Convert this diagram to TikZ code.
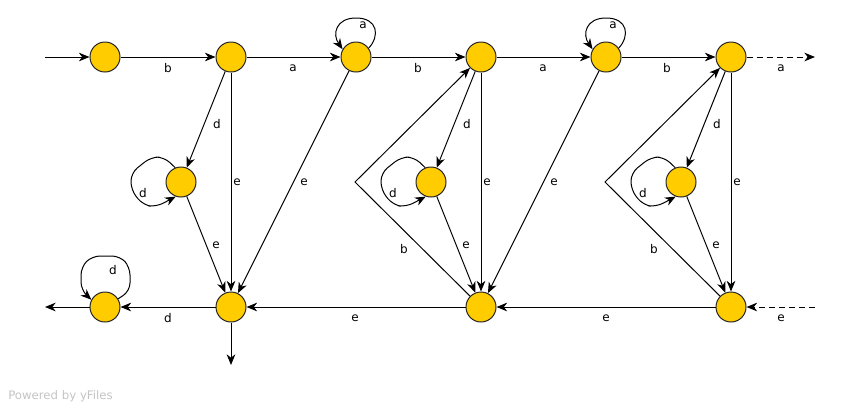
\documentclass[tikz,border=0pt]{standalone}
\usepackage{fontspec}
\setmainfont{DejaVu Sans}
\usetikzlibrary{arrows.meta}
\definecolor{yfy}{HTML}{FFCC00}
\definecolor{wm}{HTML}{C4C4C4}
\begin{document}
\begin{tikzpicture}[x=0.75pt,y=-0.75pt,
 st/.style={circle,draw=black!85,fill=yfy,minimum size=22.5pt,inner sep=0pt,line width=0.75pt},
 ed/.style={line width=0.75pt,-{Stealth[length=8pt,width=6.5pt,inset=2.5pt]}},
 loopl/.style={ed,rounded corners=6pt},
 dsh/.style={ed,dash pattern=on 4.5pt off 3pt},
 lbl/.style={font=\fontsize{9}{10}\selectfont,inner sep=0pt}
]
\useasboundingbox (0,0) rectangle (860,412);

% nodes
\node[st] (n1) at (105,57) {};
\node[st] (n2) at (231,57) {};
\node[st] (n3) at (356,57) {};
\node[st] (n4) at (481,57) {};
\node[st] (n5) at (606,57) {};
\node[st] (n6) at (731,57) {};
\node[st] (m1) at (181,182) {};
\node[st] (m2) at (431,182) {};
\node[st] (m3) at (681,182) {};
\node[st] (b1) at (105,307) {};
\node[st] (b2) at (231,307) {};
\node[st] (b3) at (481,307) {};
\node[st] (b4) at (731,307) {};

\coordinate (in) at (45,57);
\coordinate (outT) at (815,57);
\coordinate (inB) at (815,307);
\coordinate (outL) at (45,307);
\coordinate (outD) at (231,365);
\coordinate (p1) at (355,182);
\coordinate (p2) at (605,182);

% top row
\draw[ed] (in) -- (n1);
\draw[ed] (n1) -- (n2) node[lbl] at (168,68) {b};
\draw[ed] (n2) -- (n3) node[lbl] at (293,68) {a};
\draw[ed] (n3) -- (n4) node[lbl] at (418,68) {b};
\draw[ed] (n4) -- (n5) node[lbl] at (543,68) {a};
\draw[ed] (n5) -- (n6) node[lbl] at (667,68) {b};
\draw[dsh] (n6) -- (outT) node[lbl] at (781,68) {a};

% top self loops
\draw[ed] (n3.35) .. controls (380,36) and (378,18) .. (356,18) .. controls (336,18) and (332,34) .. (n3.150);
\node[lbl] at (363,25) {a};
\draw[ed] (n5.35) .. controls (630,36) and (628,18) .. (606,18) .. controls (586,18) and (582,34) .. (n5.150);
\node[lbl] at (613,25) {a};

% group 1
\draw[ed] (n2) -- (m1) node[lbl] at (217,124) {d};
\draw[ed] (n2) -- (b2) node[lbl] at (237,182) {e};
\draw[ed] (m1) -- (b2) node[lbl] at (216,245) {e};
\draw[ed] (n3) -- (b2) node[lbl] at (304,182) {e};
\draw[loopl] (m1.112) -- (164,157) -- (151,157) -- (131,173) -- (131,190) -- (143,205) -- (156,207) -- (m1.250);
\node[lbl] at (143,193) {d};

% group 2
\draw[ed] (n4) -- (m2) node[lbl] at (467,124) {d};
\draw[ed] (n4) -- (b3) node[lbl] at (487,182) {e};
\draw[ed] (m2) -- (b3) node[lbl] at (466,245) {e};
\draw[ed] (n5) -- (b3) node[lbl] at (554,182) {e};
\draw[loopl] (m2.112) -- (414,157) -- (401,157) -- (381,173) -- (381,190) -- (393,205) -- (406,207) -- (m2.250);
\node[lbl] at (393,193) {d};
\draw[ed] (b3) -- (p1) -- (n4);
\node[lbl] at (404,249) {b};

% group 3
\draw[ed] (n6) -- (m3) node[lbl] at (717,124) {d};
\draw[ed] (n6) -- (b4) node[lbl] at (737,182) {e};
\draw[ed] (m3) -- (b4) node[lbl] at (716,245) {e};
\draw[loopl] (m3.112) -- (664,157) -- (651,157) -- (631,173) -- (631,190) -- (643,205) -- (656,207) -- (m3.250);
\node[lbl] at (643,193) {d};
\draw[ed] (b4) -- (p2) -- (n6);
\node[lbl] at (654,249) {b};

% bottom row
\draw[dsh] (inB) -- (b4) node[lbl] at (781,318) {e};
\draw[ed] (b4) -- (b3) node[lbl] at (606,318) {e};
\draw[ed] (b3) -- (b2) node[lbl] at (355,318) {e};
\draw[ed] (b2) -- (b1) node[lbl] at (168,318) {d};
\draw[ed] (b1) -- (outL);
\draw[ed] (b2) -- (outD);
\draw[loopl] (b1.32) -- (130,291) -- (130,267) -- (120,256) -- (92,256) -- (81,267) -- (81,290) -- (b1.152);
\node[lbl] at (113,270) {d};

\node[anchor=west,text=wm,font=\fontsize{8.8}{10}\selectfont,inner sep=0pt] at (8,396) {Powered by yFiles};
\end{tikzpicture}
\end{document}
